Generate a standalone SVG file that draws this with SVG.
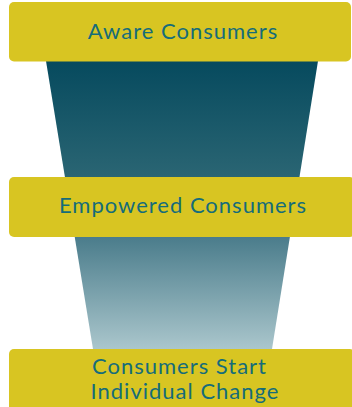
<svg xmlns="http://www.w3.org/2000/svg" width="352" height="407" viewBox="0 0 352 407">
  <defs>
    <linearGradient id="funnelFill" gradientUnits="userSpaceOnUse" x1="0" y1="61" x2="0" y2="349">
      <stop offset="0" stop-color="#064a5e"/>
      <stop offset="0.40" stop-color="#2a6573"/>
      <stop offset="0.61" stop-color="#4a7c8b"/>
      <stop offset="1" stop-color="#aac6cc"/>
    </linearGradient>
  </defs>
  <style>
    .stage { fill: #d8c522; }
    .label { font-family: Lato, "Noto Sans", sans-serif; font-size: 22px; letter-spacing: 1px; fill: #156c7a; text-anchor: middle; }
  </style>

  <!-- funnel body behind the stage bars -->
  <g id="funnel">
    <polygon points="46,61 318,61 272,349 93,349" fill="url(#funnelFill)"/>
  </g>

  <g id="aware">
    <rect class="stage" x="9" y="2" width="342" height="59.5" rx="5"/>
    <text class="label" x="183" y="39">Aware Consumers</text>
  </g>

  <g id="empowered">
    <rect class="stage" x="9" y="177" width="346" height="60" rx="5"/>
    <text class="label" x="183" y="213">Empowered Consumers</text>
  </g>

  <g id="individual-change">
    <rect class="stage" x="9" y="349" width="346" height="64" rx="5"/>
    <text class="label" x="179.5" y="374">Consumers Start</text>
    <text class="label" x="185" y="399">Individual Change</text>
  </g>
</svg>
